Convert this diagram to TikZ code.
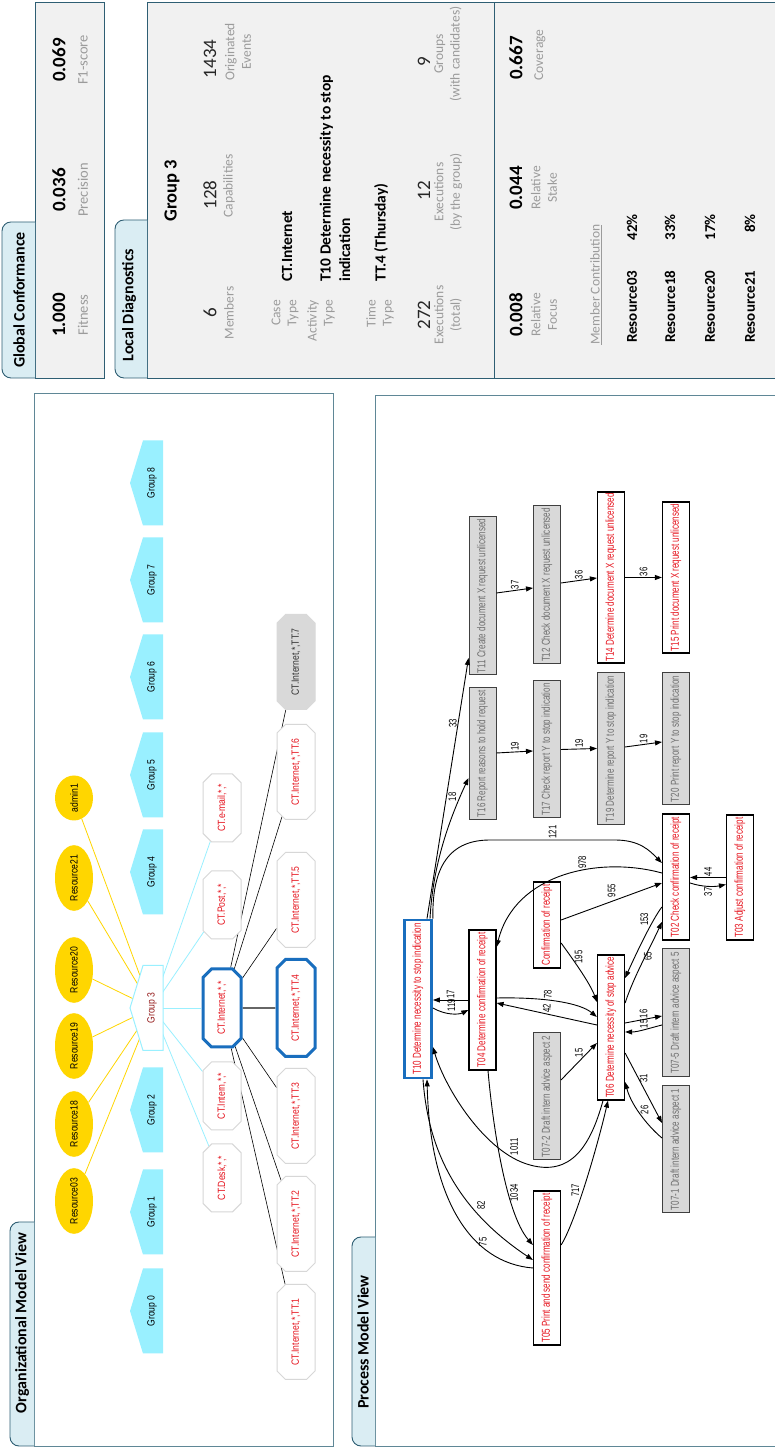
\documentclass[tikz,border=0pt]{standalone}
\usepackage{fontspec}
\setmainfont{Carlito}
\newfontfamily\narrowfont[FakeStretch=0.7]{Liberation Sans}
\newfontfamily\orgfont[FakeStretch=0.82]{Liberation Sans}
\usepackage{tikz}
\usetikzlibrary{positioning, arrows.meta, shapes.geometric, shapes.misc}
\definecolor{panelTeal}{RGB}{46,94,115}
\definecolor{viewTeal}{RGB}{95,135,150}
\definecolor{tabBlue}{RGB}{218,237,243}
\definecolor{panelGray}{RGB}{241,241,241}
\definecolor{labelGray}{RGB}{155,155,155}
\definecolor{groupCyan}{RGB}{153,240,255}
\definecolor{groupRed}{RGB}{150,30,30}
\definecolor{resGold}{RGB}{255,214,0}
\definecolor{capRed}{RGB}{230,20,30}
\definecolor{capBlue}{RGB}{25,110,190}
\definecolor{octBorder}{RGB}{215,215,215}
\definecolor{octGray}{RGB}{217,217,217}
\definecolor{taskGray}{RGB}{217,217,217}
\definecolor{taskText}{RGB}{110,110,110}
\pgfdeclarelayer{back}
\pgfdeclarelayer{links}
\pgfsetlayers{back,links,main}

\begin{document}
\begin{tikzpicture}[x=1pt, y=1pt, rotate=90, transform shape,
    panel/.style={draw=panelTeal, line width=0.9pt},
    tabshape/.style={fill=tabBlue, draw=panelTeal, line width=0.9pt, rounded corners=9pt},
    tabtitle/.style={font=\bfseries\fontsize{16}{18}\selectfont, inner sep=0pt},
    bigval/.style={font=\bfseries\fontsize{19}{20}\selectfont, inner sep=0pt},
    bignum/.style={font=\fontsize{19}{20}\selectfont, text=black!85, inner sep=0pt},
    statlab/.style={font=\fontsize{14.5}{17}\selectfont, text=labelGray, align=center, inner sep=0pt},
    ldlab/.style={font=\fontsize{13.5}{16.5}\selectfont, text=labelGray, align=center, inner sep=0pt},
    keylab/.style={font=\fontsize{13.5}{16}\selectfont, text=labelGray, align=right, anchor=east, inner sep=0pt},
    keyval/.style={font=\bfseries\fontsize{15.5}{19.5}\selectfont, align=left, anchor=west, inner sep=0pt},
    mcname/.style={font=\bfseries\fontsize{15}{17}\selectfont, anchor=west, inner sep=0pt},
    mcpct/.style={font=\bfseries\fontsize{15}{17}\selectfont, anchor=east, inner sep=0pt},
    grouplabel/.style={font=\orgfont\fontsize{10.5}{12}\selectfont, minimum width=85pt, minimum height=20pt, inner sep=0pt},
    resource/.style={ellipse, fill=resGold, minimum width=63pt, minimum height=38pt, inner sep=0pt, font=\orgfont\fontsize{10.5}{12}\selectfont},
    capoct/.style={chamfered rectangle, chamfered rectangle xsep=12pt, draw=octBorder, line width=1pt, fill=white, text=capRed, minimum height=38pt, inner sep=1pt, font=\orgfont\fontsize{10.5}{12}\selectfont},
    resline/.style={draw=resGold, line width=0.8pt},
    capline/.style={draw=groupCyan, line width=0.8pt},
    ttline/.style={draw=black, line width=0.6pt},
    task/.style={draw=black, line width=1.2pt, fill=white, text=capRed, minimum height=27pt, inner sep=1pt, font=\narrowfont\fontsize{11.5}{12}\selectfont},
    graytask/.style={task, draw=black!75, line width=1pt, fill=taskGray, text=taskText},
    flow/.style={-{Triangle[length=7pt,width=5pt]}, line width=0.9pt},
    elabel/.style={font=\narrowfont\fontsize{11}{11}\selectfont, inner sep=1pt}]
\useasboundingbox (0,0) rectangle (1448,-775);

% panels and view frames
\begin{pgfonlayer}{back}
  \filldraw[panel, fill=panelGray] (1070,-35) rectangle (1446,-104);
  \filldraw[tabshape] (1070,-35) -- (1070,-2) -- (1226,-2) -- (1226,-35);
  \filldraw[panel, fill=panelGray] (1070,-147) rectangle (1446,-776);
  \filldraw[tabshape] (1070,-147) -- (1070,-115) -- (1228,-115) -- (1228,-147);
  \draw[panel] (1070,-494) -- (1446,-494);
  \filldraw[panel, draw=viewTeal, fill=white] (2,-34) rectangle (1055,-333);
  \filldraw[tabshape] (2,-34) -- (2,-10) -- (226,-10) -- (226,-34);
  \filldraw[panel, draw=viewTeal, fill=white] (2,-375) rectangle (1053,-776);
  \filldraw[tabshape] (2,-375) -- (2,-352) -- (211,-352) -- (211,-375);
\end{pgfonlayer}

% global conformance
\node[tabtitle] (gctitle) at (1148,-19) {Global Conformance};
\node[bigval] (gcfit) at (1133,-59) {1.000};
\node[statlab] (gcfitl) at (1133,-83) {Fitness};
\node[bigval] (gcpre) at (1258,-59) {0.036};
\node[statlab] (gcprel) at (1258,-83) {Precision};
\node[bigval] (gcf1) at (1388,-59) {0.069};
\node[statlab] (gcf1l) at (1388,-83) {F1-score};

% local diagnostics
\node[tabtitle] (ldtitle) at (1143,-129) {Local Diagnostics};
\node[font=\bfseries\fontsize{18.5}{20}\selectfont, inner sep=0pt] (ldgroup) at (1257,-172) {Group 3};
\node[bignum] (ldmem) at (1135,-210) {6};
\node[ldlab] (ldmeml) at (1135,-229) {Members};
\node[bignum] (ldcap) at (1253,-210) {128};
\node[ldlab] (ldcapl) at (1262,-229) {Capabilities};
\node[bignum] (ldev) at (1389,-210) {1434};
\node[ldlab] (ldevl) at (1396,-238) {Originated\\Events};
\node[keylab] (ldcasel) at (1148,-285) {Case\\Type};
\node[keyval] (ldcase) at (1166,-287) {CT.Internet};
\node[keylab] (ldactl) at (1148,-321) {Activity\\Type};
\node[keyval] (ldact) at (1166,-335) {T10 Determine necessity to stop\\indication};
\node[keylab] (ldtimel) at (1148,-380) {Time\\Type};
\node[keyval] (ldtime) at (1166,-381) {TT.4 (Thursday)};
\node[bignum] (ldext) at (1133,-424) {272};
\node[ldlab] (ldextl) at (1133,-448) {Executions\\(total)};
\node[bignum] (ldexg) at (1257,-424) {12};
\node[ldlab] (ldexgl) at (1256,-448) {Executions\\(by the group)};
\node[bignum] (ldgrp) at (1386,-424) {9};
\node[ldlab] (ldgrpl) at (1394,-448) {Groups\\(with candidates)};
\node[bigval] (ldfoc) at (1133,-516) {0.008};
\node[ldlab] (ldfocl) at (1133,-544) {Relative\\Focus};
\node[bigval] (ldstk) at (1260,-516) {0.044};
\node[ldlab] (ldstkl) at (1260,-544) {Relative\\Stake};
\node[bigval] (ldcov) at (1390,-516) {0.667};
\node[ldlab] (ldcovl) at (1393,-540) {Coverage};
\node[ldlab, anchor=west] (ldmc) at (1103,-596) {\underline{Member Contribution}};
\foreach \rn/\rp/\ry in {03/42/632, 18/33/670, 20/17/710, 21/8/750}{
  \node[mcname] (mc\rn) at (1105,-\ry) {Resource\rn};
  \node[mcpct] (mp\rn) at (1234,-\ry) {\rp\%};
}

% organizational model view
\node[tabtitle] (omtitle) at (125,-22) {Organizational Model View};
\foreach \gx/\gn in {137/0, 236/1, 338/2, 576/4, 673/5, 771/6, 868/7, 965/8}{
  \fill[groupCyan] (\gx-42.5,-163) -- ++(0,20) -- ++(42.5,13) -- ++(42.5,-13) -- ++(0,-20) -- cycle;
  \node[grouplabel] (g\gn) at (\gx,-152) {Group \gn};
}
\filldraw[fill=white, draw=groupCyan, line width=1pt] (397.5,-163) -- ++(0,20) -- ++(42.5,13) -- ++(42.5,-13) -- ++(0,-20) -- cycle;
\node[grouplabel, text=groupRed] (g3) at (440,-152) {Group 3};
\foreach \rn/\rx in {03/247, 18/324, 19/402, 20/478, 21/570}{
  \node[resource] (r\rn) at (\rx,-74) {Resource\rn};
}
\node[resource, minimum width=45pt] (radm) at (650,-74) {admin1};
\node[capoct, minimum width=68pt] (cdesk) at (270,-222) {CT.Desk,*,*};
\node[capoct, minimum width=68pt] (cintern) at (352,-222) {CT.Intern,*,*};
\node[capoct, minimum width=78pt, draw=capBlue, line width=3pt] (cint) at (440,-222) {CT.Internet,*,*};
\node[capoct, minimum width=68pt] (cpost) at (543,-222) {CT.Post,*,*};
\node[capoct, minimum width=68pt] (cmail) at (640,-222) {CT.e-mail,*,*};
\foreach \tn/\tx in {1/116, 2/224, 3/332, 5/548, 6/676}{
  \node[capoct, minimum width=95pt] (tt\tn) at (\tx,-296) {CT.Internet,*,TT.\tn};
}
\node[capoct, minimum width=97pt, draw=capBlue, line width=3pt] (tt4) at (440,-296) {CT.Internet,*,TT.4};
\node[capoct, minimum width=95pt, fill=octGray, draw=octGray, text=black!80] (tt7) at (786,-296) {CT.Internet,*,TT.7};
\begin{pgfonlayer}{links}
  \foreach \r in {r03, r18, r19, r20, r21, radm} \draw[resline] (\r) -- (g3);
  \foreach \c in {cdesk, cintern, cint, cpost, cmail} \draw[capline] (g3) -- (\c);
  \foreach \t in {tt1, tt2, tt3, tt5, tt6, tt7} \draw[ttline] (cint) -- (\t);
  \draw[ttline, draw=black!60, line width=1.6pt] (cint) -- (tt4);
\end{pgfonlayer}

% process model view
\node[tabtitle] (pmtitle) at (106,-363) {Process Model View};
\node[task, draw=capBlue, line width=2.8pt, minimum width=158pt] (t10) at (449,-418) {T10 Determine necessity to stop indication};
\node[task, minimum width=140pt] (t04) at (448,-482.5) {T04 Determine confirmation of receipt};
\node[graytask, minimum width=132pt] (t16) at (694,-482.5) {T16 Report reasons to hold request};
\node[graytask, minimum width=158pt] (t11) at (852,-482.5) {T11 Create document X request unlicensed};
\node[task, minimum width=154pt] (t05) at (180,-547) {T05 Print and send confirmation of receipt};
\node[graytask, minimum width=127pt] (t072) at (351.5,-547) {T07-2 Draft intern advice aspect 2};
\node[task, minimum width=86pt] (conf) at (523,-547) {Confirmation of receipt};
\node[graytask, minimum width=137pt] (t17) at (698.5,-547) {T17 Check report Y to stop indication};
\node[graytask, minimum width=158pt] (t12) at (863,-547) {T12 Check document X request unlicensed};
\node[task, minimum width=145pt] (t06) at (420.5,-611) {T06 Determine necessity of stop advice};
\node[graytask, minimum width=152pt] (t19) at (699,-611) {T19 Determine report Y to stop indication};
\node[task, minimum width=171pt] (t14) at (870.5,-611) {T14 Determine document X request unlicensed};
\node[graytask, minimum width=127pt] (t071) at (298.5,-676) {T07-1 Draft intern advice aspect 1};
\node[graytask, minimum width=128pt] (t075) at (435,-676) {T07-5 Draft intern advice aspect 5};
\node[task, minimum width=126pt] (t02) at (571,-676) {T02 Check confirmation of receipt};
\node[graytask, minimum width=132pt] (t20) at (709,-676) {T20 Print report Y to stop indication};
\node[task, minimum width=151pt] (t15) at (870.5,-676) {T15 Print document X request unlicensed};
\node[task, minimum width=125pt] (t03) at (570.5,-740) {T03 Adjust confirmation of receipt};

\draw[flow] ([yshift=-9pt]t10.east) -- node[elabel, pos=.75, anchor=south] {33} ([xshift=-62pt]t11.north);
\draw[flow] ([yshift=-12pt]t10.east) .. controls (585,-433) and (630,-450) .. node[elabel, pos=.8, anchor=south west] {18} ([xshift=-24pt]t16.north);
\draw[flow] (t10.south east) .. controls (575,-432) and (608,-445) .. (608,-490) -- node[elabel, anchor=west] {121} (608,-615) .. controls (608,-640) and (597,-650) .. ([xshift=14pt]t02.north);
\draw[flow] (t04.north) -- node[elabel, anchor=west] {17} (t04.north |- t10.south);
\draw[flow] ([xshift=-9pt]t10.south) .. controls (433,-445) and (433,-458) .. node[elabel, anchor=west, xshift=1pt] {119} ([xshift=-10pt]t04.north);
\draw[flow] ([xshift=2pt]t04.south) .. controls (451,-545) and (445,-580) .. node[elabel, pos=.4, anchor=west] {78} ([xshift=10.5pt]t06.north);
\draw[flow] ([xshift=2.5pt]t06.north) -- node[elabel, anchor=west] {42} ([xshift=-3pt]t04.south);
\draw[flow] ([xshift=5pt]conf.south) -- node[elabel, anchor=west, xshift=3pt] {955} ([xshift=-6pt]t02.north);
\draw[flow] ([xshift=-18pt]conf.south) .. controls (490,-572) and (465,-590) .. node[elabel, pos=.45, anchor=west, xshift=3pt] {195} ([xshift=25.5pt]t06.north);
\draw[flow] ([xshift=4pt]t02.north) .. controls (592,-600) and (575,-515) .. node[elabel, pos=.4, anchor=west] {978} ([xshift=53pt]t04.south);
\draw[flow] ([xshift=-30pt]t02.north) .. controls (528,-652) and (494,-636) .. node[elabel, pos=.35, anchor=south west] {153} ([xshift=49.5pt]t06.south);
\draw[flow] ([xshift=24.5pt]t06.south) .. controls (472,-634) and (500,-650) .. node[elabel, pos=.5, anchor=north west] {65} ([xshift=-45pt]t02.north);
\draw[flow] (t03.north) -- node[elabel, anchor=west] {44} (t03.north |- t02.south);
\draw[flow] ([xshift=-6pt]t02.south) .. controls (561,-702) and (561,-714) .. node[elabel, anchor=east] {37} ([xshift=-7pt]t03.north);
\draw[flow] ([xshift=4.5pt]t06.south) -- node[elabel, anchor=west] {16} ([xshift=-3pt]t075.north);
\draw[flow] ([xshift=-12pt]t075.north) .. controls (420,-650) and (416,-638) .. node[elabel, anchor=west] {15} ([xshift=-4.5pt]t06.south);
\draw[flow] ([xshift=16.5pt]t072.south) -- node[elabel, anchor=west, xshift=3pt] {15} ([xshift=-15.5pt]t06.north);
\draw[flow] ([xshift=-25.5pt]t06.south) -- node[elabel, anchor=west, xshift=4pt] {31} ([xshift=26.5pt]t071.north);
\draw[flow] ([xshift=11.5pt]t071.north) .. controls (318,-652) and (340,-632) .. node[elabel, pos=.45, anchor=west, xshift=4pt] {26} ([xshift=-54.5pt]t06.south);
\draw[flow] ([yshift=8pt]t06.west) .. controls (300,-590) and (272,-570) .. (283,-530) .. controls (295,-485) and (360,-445) .. node[elabel, pos=.12, anchor=west, xshift=2pt] {1011} ([xshift=-48pt]t10.south);
\draw[flow] ([xshift=23pt]t05.south) .. controls (225,-575) and (300,-597) .. node[elabel, pos=.4, anchor=south west] {717} ([yshift=3pt]t06.west);
\draw[flow] ([yshift=-5.5pt]t04.west) .. controls (330,-492) and (235,-505) .. node[elabel, pos=.65, anchor=north] {1034} ([xshift=23pt]t05.north);
\draw[flow] ([yshift=-5pt]t10.west) .. controls (300,-428) and (240,-455) .. node[elabel, pos=.7, anchor=north west] {82} ([xshift=8pt]t05.north);
\draw[flow] (t05.north) .. controls (185,-470) and (250,-430) .. node[elabel, pos=.3, anchor=west] {75} ([yshift=-9pt]t10.west);
\draw[flow] ([xshift=3pt]t11.south) -- node[elabel, anchor=west] {37} ([xshift=-3pt]t12.north);
\draw[flow] ([xshift=2pt]t12.south) -- node[elabel, anchor=west] {36} ([xshift=-0.5pt]t14.north);
\draw[flow] (t14.south) -- node[elabel, anchor=west] {36} (t14.south |- t15.north);
\draw[flow] ([xshift=1pt]t16.south) -- node[elabel, anchor=west] {19} ([xshift=-1.5pt]t17.north);
\draw[flow] (t17.south) -- node[elabel, anchor=west] {19} ([xshift=0.5pt]t19.north);
\draw[flow] ([xshift=2pt]t19.south) -- node[elabel, anchor=west] {19} ([xshift=-3pt]t20.north);
\end{tikzpicture}
\end{document}
